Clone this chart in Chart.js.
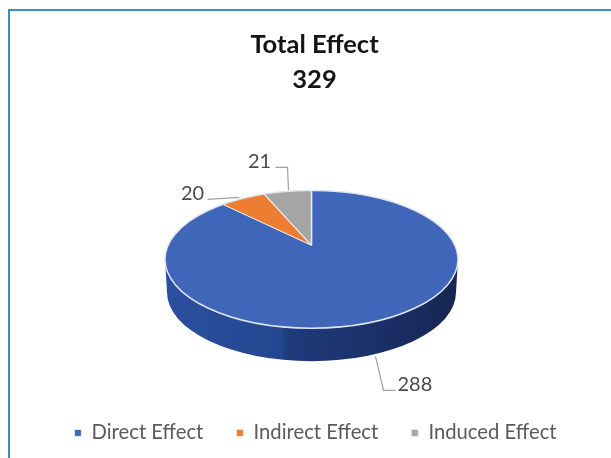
<!DOCTYPE html>
<html>
<head>
<meta charset="utf-8">
<style>
  html, body { margin: 0; padding: 0; background: #fff; }
  #wrap { position: relative; width: 611px; height: 458px; overflow: hidden; }
  #frame { position: absolute; left: 8px; top: 9px; width: 620px; height: 470px; border: 2px solid #3a8fc4; }
  canvas { position: absolute; left: 0; top: 0; }
</style>
<script src="https://cdn.jsdelivr.net/npm/chart.js@4/dist/chart.umd.min.js"></script>
</head>
<body>
<div id="wrap">
  <div id="frame"></div>
  <canvas id="pie" width="611" height="458"></canvas>
</div>
<script>
const categories = ["Direct Effect", "Indirect Effect", "Induced Effect"];
const effectValues = [288, 20, 21];
const titleLines = ["Total Effect", "329"];
const sliceColors = ["#3f66b8", "#ed7d31", "#a5a5a5"];

// look of the tilted pie, relative to the ellipse the library gives us
const tilt = 0.47;        // ellipse height / width
const apexShift = -14;    // perspective moves the tip above the ellipse centre
const sliceSquash = 0.46;
const depth = 33;

// leader lines, one per category, offsets from the pie centre
const leaders = [
  { text: [86, 125], line: [[64, 97], [72, 131], [84, 131]], align: "left" },
  { text: [-119, -66], line: [[-104, -60], [-72, -62]], align: "center" },
  { text: [-52, -98], line: [[-36, -92], [-24, -92], [-23, -69]], align: "center" },
];

const pie3d = {
  id: "pie3d",
  afterLayout(chart) {
    // the title and legend sit a little off the pie's centre line in the original
    chart.titleBlock.left += 3;
    chart.titleBlock.right += 3;
    chart.titleBlock.top -= 1;
    chart.titleBlock.bottom -= 1;
    chart.legend.left += 4;
    chart.legend.right += 4;
    chart.legend.top -= 5;
    chart.legend.bottom -= 5;
  },
  beforeDatasetsDraw(chart) {
    const ctx = chart.ctx;
    const arc = chart.getDatasetMeta(0).data[0];
    const rx = arc.outerRadius, ry = rx * tilt;
    // side wall
    const grad = ctx.createLinearGradient(arc.x - rx, 0, arc.x + rx, 0);
    grad.addColorStop(0, "#2c50a0");
    grad.addColorStop(0.4, "#24468f");
    grad.addColorStop(0.41, "#1f3b7c");
    grad.addColorStop(0.75, "#1a2f66");
    grad.addColorStop(1, "#172650");
    ctx.save();
    ctx.fillStyle = grad;
    ctx.beginPath();
    ctx.ellipse(arc.x, arc.y, rx, ry, 0, 0, Math.PI);
    ctx.ellipse(arc.x, arc.y + depth, rx - 2, ry, 0, Math.PI, 0, true);
    ctx.closePath();
    ctx.fill();
    ctx.restore();
    // top face: the library draws the slices through this squash, clipped to the ellipse
    ctx.save();
    ctx.beginPath();
    ctx.ellipse(arc.x, arc.y, rx, ry, 0, 0, Math.PI * 2);
    ctx.clip();
    ctx.translate(arc.x, arc.y + apexShift);
    ctx.scale(1.35, 1.35 * sliceSquash);
    ctx.translate(-arc.x, -arc.y);
  },
  afterDatasetsDraw(chart) {
    const ctx = chart.ctx;
    const arc = chart.getDatasetMeta(0).data[0];
    const rx = arc.outerRadius, ry = rx * tilt;
    ctx.restore();
    // pale rim
    ctx.save();
    ctx.strokeStyle = "#dfe6f2";
    ctx.lineWidth = 1.5;
    ctx.beginPath();
    ctx.ellipse(arc.x, arc.y, rx, ry, 0, 0, Math.PI * 2);
    ctx.stroke();
    // value labels with leader lines
    ctx.font = "20px Lato";
    ctx.textBaseline = "middle";
    ctx.strokeStyle = "#a59f9a";
    ctx.lineWidth = 1.2;
    effectValues.forEach((v, i) => {
      const l = leaders[i];
      ctx.beginPath();
      l.line.forEach((p, j) => {
        if (j === 0) ctx.moveTo(arc.x + p[0], arc.y + p[1]);
        else ctx.lineTo(arc.x + p[0], arc.y + p[1]);
      });
      ctx.stroke();
      ctx.fillStyle = "#4a4a4a";
      ctx.textAlign = l.align;
      ctx.fillText(String(v), arc.x + l.text[0], arc.y + l.text[1]);
    });
    ctx.restore();
  },
};

new Chart(document.getElementById("pie"), {
  type: "pie",
  plugins: [pie3d],
  data: {
    labels: categories,
    datasets: [{
      data: effectValues,
      backgroundColor: sliceColors,
      borderColor: "#e9edf4",
      borderWidth: 1,
      radius: 146.5,
    }],
  },
  options: {
    responsive: false,
    animation: false,
    layout: { padding: { left: 12, right: 0, top: 28, bottom: 0 } },
    plugins: {
      tooltip: { enabled: false },
      title: {
        display: true,
        text: titleLines,
        color: "#141414",
        font: { family: "Lato", size: 25.5, weight: "bold", lineHeight: 1.37 },
        padding: { top: 0, bottom: 26 },
      },
      legend: {
        position: "bottom",
        labels: {
          usePointStyle: true,
          pointStyle: "rect",
          boxWidth: 7,
          boxHeight: 7,
          padding: 33,
          color: "#5a5a5a",
          font: { family: "Lato", size: 20.25 },
        },
      },
    },
  },
});
</script>
</body>
</html>
